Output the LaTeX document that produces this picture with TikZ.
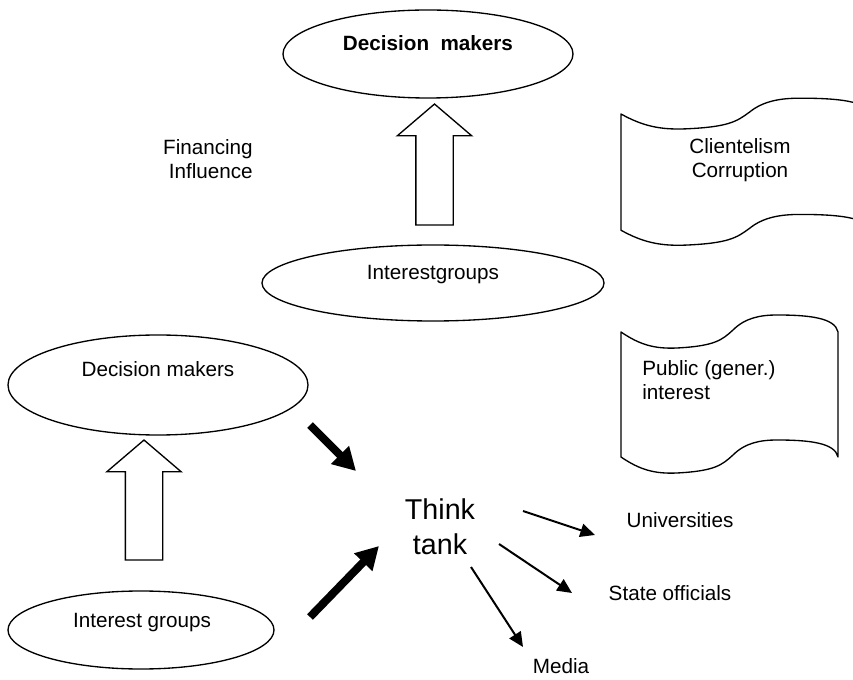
\documentclass[tikz,border=0pt]{standalone}
\usepackage{fontspec}
\setmainfont{Liberation Sans}
\usetikzlibrary{shapes.geometric, shapes.arrows, arrows.meta, positioning}
\tikzset{
  % ellisse degli attori
  actor/.style={draw, ellipse, line width=1pt, inner sep=0pt},
  % etichette
  lbl/.style={font=\fontsize{15.5}{18}\selectfont, inner sep=0pt, align=center},
  biglbl/.style={font=\fontsize{21.5}{26}\selectfont, inner sep=0pt, align=center},
  % freccia vuota (influenza)
  hollow/.style={draw, single arrow, line width=1pt, rotate=90, inner xsep=0pt,
    inner ysep=13.5pt, single arrow head extend=13.9pt, single arrow tip angle=99,
    minimum height=90.75pt},
  % frecce piene
  thickarr/.style={line width=6pt, -{Triangle[length=17pt, width=18pt]}},
  thinarr/.style={line width=1.5pt, -{Triangle[length=11pt, width=10pt]}},
  % striscione
  banner/.style={line width=1pt, line join=round},
}

\begin{document}
\begin{tikzpicture}[x=0.75pt, y=-0.75pt]
  \useasboundingbox (0,0) rectangle (853,680);
  % parte alta
  \node[actor, minimum width=217.5pt, minimum height=66pt] (dmtop) at (428,54) {};
  \node[lbl, font=\fontsize{15.5}{18}\selectfont\bfseries] (dmtoptxt) at (428,43) {Decision\ \ makers};
  \node[hollow] (uptop) at (434.5,172.5) {};
  \node[actor, minimum width=256.5pt, minimum height=57pt] (igtop) at (433,283) {};
  \node[lbl] (igtoptxt) at (433,275) {Interestgroups};
  \node[lbl, align=right, anchor=east] (fin) at (253,159) {Financing\\Influence};
  \begin{scope}[shift={(621,114)}, xscale=1.147, yscale=0.93]
    \draw[banner] (0,0) .. controls (19,13) and (34,17) .. (56,16) .. controls (94,14) and (101,8) .. (112,-2)
      .. controls (124,-14) and (139,-17) .. (156,-17) .. controls (189,-17) and (214,-14) .. (217,0) -- (217,125)
      .. controls (214,111) and (189,108) .. (156,108) .. controls (139,108) and (124,111) .. (112,123)
      .. controls (101,133) and (94,139) .. (56,141) .. controls (34,142) and (19,138) .. (0,125) -- cycle;
  \end{scope}
  \node[lbl] (clien) at (740,160) {Clientelism\\Corruption};
  \begin{scope}[shift={(621,332)}]
    \draw[banner] (0,0) .. controls (19,13) and (34,17) .. (56,16) .. controls (94,14) and (101,8) .. (112,-2)
      .. controls (124,-14) and (139,-17) .. (156,-17) .. controls (189,-17) and (214,-14) .. (217,0) -- (217,125)
      .. controls (214,111) and (189,108) .. (156,108) .. controls (139,108) and (124,111) .. (112,123)
      .. controls (101,133) and (94,139) .. (56,141) .. controls (34,142) and (19,138) .. (0,125) -- cycle;
  \end{scope}
  \node[lbl, align=left, anchor=west] (pub) at (642,380) {Public (gener.)\\interest};
  % parte bassa
  \node[actor, minimum width=225pt, minimum height=75pt] (dmlow) at (158,385) {};
  \node[lbl] (dmlowtxt) at (158,369) {Decision makers};
  \node[hollow, minimum height=90pt] (uplow) at (144,508) {};
  \node[actor, minimum width=199.5pt, minimum height=58.5pt] (iglow) at (141,630) {};
  \node[lbl] (iglowtxt) at (142,623) {Interest groups};
  \node[biglbl] (tt) at (440,527) {Think\\tank};
  \node[lbl] (univ) at (680,520) {Universities};
  \node[lbl] (state) at (670,593) {State officials};
  \node[lbl] (media) at (561,666) {Media};
  \coordinate (dmtail) at (310,425);
  \coordinate (dmtip) at (356,471);
  \coordinate (igtail) at (310,617);
  \coordinate (igtip) at (379,546);
  \coordinate (unitail) at (523,511);
  \coordinate (unitip) at (595,535);
  \coordinate (sttail) at (499,544);
  \coordinate (sttip) at (572,593);
  \coordinate (medtail) at (471,567);
  \coordinate (medtip) at (523,647);
  \draw[thickarr] (dmtail) -- (dmtip);
  \draw[thickarr] (igtail) -- (igtip);
  \draw[thinarr] (unitail) -- (unitip);
  \draw[thinarr] (sttail) -- (sttip);
  \draw[thinarr] (medtail) -- (medtip);
\end{tikzpicture}
\end{document}
